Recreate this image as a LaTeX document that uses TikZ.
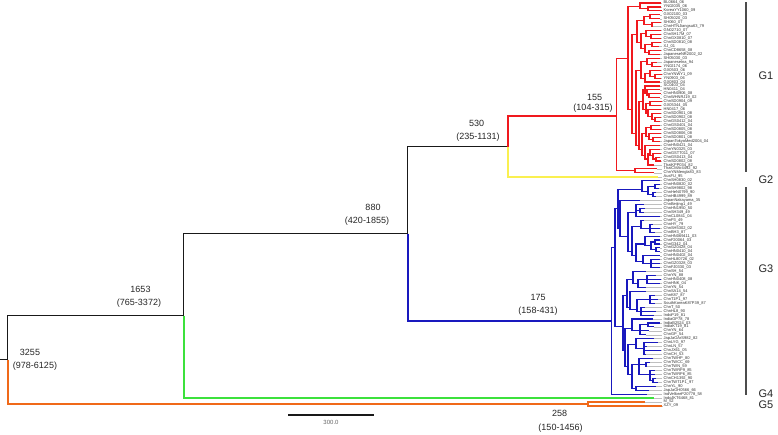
\documentclass[tikz,border=0pt]{standalone}
\usepackage{fontspec}
\setmainfont{Liberation Sans}
\definecolor{stem}{RGB}{25,25,25}
\definecolor{gone}{RGB}{240,25,30}
\definecolor{gtwo}{RGB}{250,240,80}
\definecolor{gthree}{RGB}{25,25,190}
\definecolor{gfour}{RGB}{60,225,60}
\definecolor{gfive}{RGB}{240,105,25}
\tikzset{
  branch/.style={line width=1.5pt},
  cbranch/.style={line width=2pt},
  crown/.style={line width=1.1pt},
  tipline/.style={draw=gray!50, line width=0.6pt},
  tiplabel/.style={anchor=west, inner sep=0pt, text=black!80, font=\fontsize{4}{4}\selectfont},
  agelabel/.style={inner sep=0pt, text=black!85, font=\fontsize{9}{10}\selectfont},
  genobar/.style={draw=black!70, line width=1.2pt},
  genolabel/.style={inner sep=0pt, text=black!85, font=\fontsize{11}{12}\selectfont},
}
% one tip: style, parent, year, row, label
\newcommand{\tipleaf}[5]{%
  \pgfmathsetmacro\tipx{661.7-0.287*(2009-#3)}
  \coordinate (t#4) at (\tipx,#4);
  \draw[#1] (#2) |- (t#4);
  \draw[tipline] (t#4) -- (662,#4);
  \node[tiplabel] (l#4) at (663.5,#4) {#5};}

\begin{document}
\begin{tikzpicture}[x=1pt, y=-1pt]
  \fill[white] (0,0) rectangle (778,434);
  \useasboundingbox (0,0) rectangle (778,434);

  % Backbone nodes
  \coordinate (stub) at (0,359.5);
  \coordinate (root) at (7.5,359.5);
  \coordinate (n1653) at (183.5,315.5);
  \coordinate (n258) at (587.5,404);
  \coordinate (n880) at (407.5,233.5);
  \coordinate (n530) at (507.5,146.5);
  \coordinate (n175) at (611.5,320.5);
  \coordinate (n155) at (616.5,115.5);

  \draw[branch, draw=stem] (stub) -- (root);
  \draw[branch, draw=stem] (root) |- (n1653);
  \draw[cbranch, draw=gfive] (root) |- (n258);
  \draw[branch, draw=stem] (n1653) |- (n880);
  \draw[branch, draw=stem] (n880) |- (n530);
  \draw[cbranch, draw=gthree] (n880) |- (n175);
  \draw[cbranch, draw=gone] (n530) |- (n155);

  % Node ages
  \node[agelabel] (a3255) at (30,352) {3255};
  \node[agelabel] (c3255) at (35,366) {(978-6125)};
  \node[agelabel] (a1653) at (140.5,289) {1653};
  \node[agelabel] (c1653) at (139,303) {(765-3372)};
  \node[agelabel] (a880) at (373,207) {880};
  \node[agelabel] (c880) at (367,221) {(420-1855)};
  \node[agelabel] (a530) at (476.5,123) {530};
  \node[agelabel] (c530) at (478,137) {(235-1131)};
  \node[agelabel] (a155) at (594.5,97) {155};
  \node[agelabel] (c155) at (593,108) {(104-315)};
  \node[agelabel] (a175) at (538,297) {175};
  \node[agelabel] (c175) at (538,311) {(158-431)};
  \node[agelabel] (a258) at (559.5,413) {258};
  \node[agelabel] (c258) at (560.5,428) {(150-1456)};

  % Crown, one row per tip
  \begin{scope}[yshift=-3pt, y=-3.95pt]
    % G1
    \foreach \n/\p/\x/\y in {rA/n155/628/14, rZ/n155/635/42.5, rA1/rA/640/0.8,
      rA1b/rA1/648/1.5, rA2/rA/632/27, rB/rA2/637/8, rB1/rB/644/4.5,
      rB1a/rB1/650/3.5, rB1b/rB1/652/5.5, rB2/rB/641/10, rB2a/rB2/646/7.8,
      rB2c/rB2a/651/8.5, rB2b/rB2/645/11.5, rB2d/rB2b/652/10.5,
      rB2e/rB2b/649/12.5, rC/rA2/636/33, rC1/rC/641/17, rC1a/rC1/647/14.8,
      rC1c/rC1a/652/15.5, rC1b/rC1/645/19, rC1d/rC1b/650/17.8,
      rC1e/rC1d/655/18.5, rC2/rC/639/36, rC2a/rC2/643/25, rC2a1/rC2a/645/22,
      rC2a3/rC2a1/647/22.8, rC2a4/rC2a3/649/23.5, rC2a2/rC2a/646/27,
      rC2a5/rC2a2/650/25.5, rC2a6/rC2a2/648/28, rC2a7/rC2a6/652/28.8,
      rC2a8/rC2a7/655/29.5, rC2b/rC2/642/37, rC2b1/rC2b/646/33,
      rC2b3/rC2b1/651/31.5, rC2b4/rC2b1/649/33.8, rC2b5/rC2b4/653/34.5,
      rC2b2/rC2b/645/38.5, rC2b6/rC2b2/648/39.5, rC2b7/rC2b6/650/38,
      rC2b8/rC2b7/653/38.7, rC2b9/rC2b8/656/39.5}
    {\coordinate (\n) at (\x,\y); \draw[crown, draw=gone] (\p) |- (\n);}
    \foreach \p/\yr/\lab [count=\i from 0] in {rA1/2006/BL0664\_06,
      rA1b/2006/YN02035\_06, rA1b/2009/KoreaYY1060\_09, rB1a/2003/GX02100\_03,
      rB1a/2003/SH05020\_03, rB1b/2007/SH060\_07, rB1b/1979/ChnHTNJiangsu63\_79,
      rB2a/2007/GN02710\_07, rB2c/2007/ChnSH17M\_07, rB2c/2007/ChnGX0810\_07,
      rB2d/2008/ChnSD0810\_08, rB2d/2001/XJ\_01, rB2e/2008/ChnCD8658\_08,
      rB2e/2002/JapaneseNR2002\_02, rC1a/2003/SH05030\_03,
      rC1c/1994/JapaneseIna\_94, rC1c/2006/YN02174\_06, rC1d/2006/GX0503\_06,
      rC1e/2009/ChnYNWY1\_09, rC1e/2006/YN0903\_06, rC1b/2004/GX0803\_04,
      rC2a1/2004/SC0403\_04, rC2a3/2004/HN0411\_04, rC2a4/2008/ChnHN0906\_08,
      rC2a4/2002/ChnWHNRJ19\_02, rC2a5/2009/ChnSD0904\_09,
      rC2a5/2005/GX05344\_05, rC2a6/2006/HN0417\_06, rC2a7/2008/ChnSD0901\_08,
      rC2a8/2008/ChnSD0902\_08, rC2a8/2004/ChnGS0412\_04,
      rC2b3/2004/ChnGS0401\_04, rC2b3/2008/ChnSD0805\_08,
      rC2b4/2008/ChnSD0806\_08, rC2b5/2008/ChnSD0801\_08,
      rC2b5/2004/JapanTokyoMed2004\_04, rC2b2/2004/ChnHN0421\_04,
      rC2b7/2003/ChnYN0325\_03, rC2b8/2007/ChnGSTT011\_07,
      rC2b9/2004/ChnGS0413\_04, rC2b9/2008/ChnSD0802\_08,
      rC2b6/1982/ThaiKPP034\_82, rZ/1992/ThaiCMAr4492\_92,
      rZ/1983/ChnYNMengla83\_83}
    {\tipleaf{crown, draw=gone}{\p}{\yr}{\i}{\lab}}

    % G2
    \tipleaf{cbranch, draw=gtwo}{n530}{1995}{44}{AusFU\_95}

    % G3
    \foreach \n/\p/\x/\y in {bB/n175/615/62, bU/bB/618/52, bU1/bU/642/47.3,
      bU1a/bU1/648/47.8, bU1b/bU1a/655/46.5, bU1c/bU1a/653/48.5,
      bU2/bU/620/57, bU3/bU2/628/59, bU4/bU3/636/53, bU4a/bU4/640/52.5,
      bU5/bU3/632/63, bU6/bU5/641/56.5, bU6a/bU6/650/57, bU7/bU5/636/64,
      bU8/bU7/645/61, bU8a/bU8/651/61.5, bU8b/bU8a/655/60.5,
      bU8c/bU8a/656/62.5, bU9/bU7/643/65.5, bU9a/bU9/651/66,
      bL/bB/623/82, bL1/bL/627/74, bL1a/bL1/633/70, bL1b/bL1a/638/71,
      bL1c/bL1b/647/70, bL1d/bL1/630/77, bL1e/bL1d/637/77.5,
      bL1g/bL1e/650/75, bL1h/bL1e/641/78, bL2/bL/625/88, bL2a/bL2/632/82.5,
      bL2b/bL2a/640/83, bL2c/bL2b/648/81.5, bL2d/bL2/628/92,
      bL2e/bL2d/636/86.5, bL2f/bL2e/644/87.5, bL2g/bL2d/632/94,
      bL2h/bL2g/639/91.5, bL2i/bL2h/646/91.5, bL2j/bL2h/650/94,
      bL2k/bL2j/653/95.5, bL2m/bL2g/636/97.5}
    {\coordinate (\n) at (\x,\y); \draw[crown, draw=gthree] (\p) |- (\n);}
    \foreach \p/\yr/\lab [count=\i from 45] in {bU1/2002/ChnSH0830\_02,
      bU1b/2002/ChnHN0820\_02, bU1b/1998/ChnSH9802\_98,
      bU1c/1990/ChnHeN0799\_90, bU1c/1989/ChnHB4999\_89,
      bU2/1935/JapanNakayama\_35, bU4/1949/ChnBeijing1\_49,
      bU4a/1950/ChnHN1950\_50, bU4a/1949/ChnSH349\_49, bU4/2004/ChnCL0841\_04,
      bU6/1949/ChnP3\_49, bU6a/1979/ChnHY\_79, bU6a/2002/ChnSH5302\_02,
      bU6a/1987/ChnBH3\_87, bU8/2003/ChnHN069411\_03, bU8b/2003/ChnF20064\_03,
      bU8b/2004/ChnG342\_04, bU8c/2004/ChnGZ0428\_04, bU8c/2004/ChnHN0410\_04,
      bU9/2004/ChnHN0402\_04, bU9a/2002/ChnHL80726\_02,
      bU9a/2003/ChnGZ0328\_03, bU9a/2003/ChnFJ0330\_03, bL1a/1954/ChnSH\_54,
      bL1c/1988/ChnYN\_88, bL1c/2008/ChnHN0408\_08, bL1c/2004/ChnHNK\_04,
      bL1b/1954/ChnYN\_54, bL1d/1954/ChnSA14\_54, bL1g/1987/ChnK87\_87,
      bL1g/1997/ChnT1P1\_97, bL1g/1987/SouthKoreaK87P39\_87,
      bL1h/1950/ChnT\_50, bL1h/1990/ChnHL8\_90, bL1h/1981/IndoP19\_81,
      bL2a/1978/IndiaGP78\_78, bL2c/2003/IndiaB2524\_03,
      bL2c/1981/IndiaKT19\_81, bL2b/1964/ChnYN\_64, bL2b/1954/ChnGP\_54,
      bL2e/1982/JapJaOArS982\_82, bL2f/1997/ChnLYG\_97, bL2f/1957/ChnLN\_57,
      bL2f/2005/ChnJX61\_05, bL2f/1953/ChnCH\_53, bL2h/1980/ChnTWHP\_80,
      bL2i/1969/ChnTWCC\_69, bL2i/1959/ChnTWN\_59, bL2j/1985/ChnTWRP9\_85,
      bL2j/1985/ChnTWRP6\_85, bL2k/1990/ChnCH1392\_90,
      bL2k/1997/ChnTWT1P1\_97, bL2m/1990/ChnYL\_90,
      bL2m/1966/JapJaOH0566\_66, n175/1958/IndVelloreP20778\_58}
    {\tipleaf{crown, draw=gthree}{\p}{\yr}{\i}{\lab}}

    % G4 and G5
    \tipleaf{cbranch, draw=gfour}{n1653}{1981}{100}{IndoJKT6468\_81}
    \tipleaf{cbranch, draw=gfive}{n258}{1952}{101}{M\_52}
    \tipleaf{cbranch, draw=gfive}{n258}{2009}{102}{XZY\_09}
  \end{scope}

  % Genotype brackets
  \draw[genobar] (746,2) -- (746,172);
  \draw[genobar] (746,187) -- (746,395);
  \node[genolabel] (g1) at (766,75.5) {G1};
  \node[genolabel] (g2) at (766,179.5) {G2};
  \node[genolabel] (g3) at (766,269) {G3};
  \node[genolabel] (g4) at (766,394) {G4};
  \node[genolabel] (g5) at (766,405) {G5};

  % Scale bar
  \coordinate (sbl) at (288,415);
  \coordinate (sbr) at (374,415);
  \draw[line width=1.1pt, draw=stem] (sbl) -- (sbr);
  \node[inner sep=0pt, text=black!60, font=\fontsize{6}{7}\selectfont] (sbt) at (331,422) {300.0};
\end{tikzpicture}
\end{document}
